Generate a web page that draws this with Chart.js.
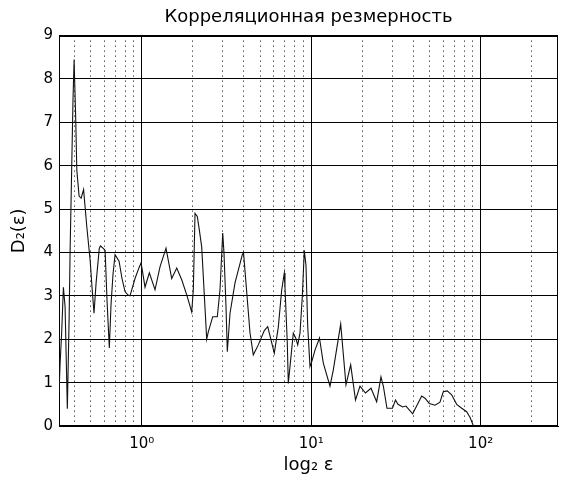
<!DOCTYPE html>
<html>
<head>
<meta charset="utf-8">
<script src="https://cdn.jsdelivr.net/npm/chart.js@4/dist/chart.umd.min.js"></script>
<style>
  html, body { margin: 0; padding: 0; background: #fff; }
</style>
</head>
<body>
<canvas id="myChart" width="562" height="486"></canvas>
<script>
// epsilon values (log-spaced) and the correlation dimension D2
const epsValues = [
  0.325, 0.330, 0.337, 0.345, 0.353, 0.364, 0.373, 0.378, 0.386, 0.393,
  0.399, 0.408, 0.414, 0.427, 0.439, 0.454, 0.474, 0.496, 0.509, 0.523,
  0.538, 0.562, 0.571, 0.591, 0.608, 0.624, 0.644, 0.659, 0.677, 0.696,
  0.735, 0.765, 0.797, 0.830, 0.853, 0.913, 0.964, 0.991, 1.014, 1.046,
  1.109, 1.198, 1.282, 1.391, 1.503, 1.609, 1.722, 1.851, 1.972, 2.016,
  2.063, 2.128, 2.187, 2.259, 2.418, 2.471, 2.624, 2.793, 2.897, 3.006,
  3.059, 3.143, 3.199, 3.319, 3.552, 3.923, 3.987, 4.354, 4.554, 4.874,
  5.288, 5.539, 6.058, 6.397, 6.699, 6.939, 7.005, 7.228, 7.327, 7.497,
  7.842, 8.102, 8.326, 8.589, 8.862, 9.106, 9.318, 9.537, 9.838, 10.11,
  10.53, 11.19, 11.79, 12.91, 13.50, 14.93, 16.04, 17.10, 18.26, 19.41,
  20.91, 22.54, 24.34, 25.81, 26.70, 28.00, 30.18, 31.43, 32.52, 34.66,
  36.25, 39.71, 44.88, 46.94, 49.76, 53.77, 57.54, 60.18, 63.54, 67.44,
  72.19, 77.27, 82.70, 86.49, 90.70
];
const d2Values = [
  0.75, 1.45, 2.15, 3.20, 2.75, 0.40, 2.50, 4.06, 5.90, 7.50,
  8.45, 7.06, 5.90, 5.30, 5.25, 5.45, 4.60, 3.83, 3.20, 2.60,
  3.30, 4.10, 4.15, 4.10, 4.05, 2.90, 1.80, 2.80, 3.50, 3.95,
  3.80, 3.40, 3.10, 3.02, 3.00, 3.40, 3.65, 3.76, 3.53, 3.20,
  3.53, 3.14, 3.67, 4.10, 3.40, 3.64, 3.37, 3.00, 2.63, 3.14,
  4.90, 4.83, 4.52, 4.13, 2.00, 2.17, 2.52, 2.52, 3.14, 4.45,
  3.98, 2.75, 1.71, 2.60, 3.30, 3.95, 4.00, 2.15, 1.64, 1.87,
  2.20, 2.29, 1.68, 2.28, 3.14, 3.53, 3.20, 1.91, 0.98, 1.37,
  2.14, 2.03, 1.87, 2.14, 2.98, 4.05, 3.70, 2.30, 1.37, 1.50,
  1.75, 2.03, 1.45, 0.92, 1.29, 2.35, 0.95, 1.41, 0.60, 0.92,
  0.76, 0.87, 0.56, 1.13, 0.90, 0.41, 0.41, 0.60, 0.50, 0.44,
  0.46, 0.28, 0.69, 0.64, 0.52, 0.48, 0.55, 0.79, 0.81, 0.72,
  0.50, 0.41, 0.33, 0.20, 0.00
];
const majorTicks = [1, 10, 100];
const majorLabels = ['10\u2070', '10\u00b9', '10\u00b2'];
const minorTicks = [0.4, 0.5, 0.6, 0.7, 0.8, 0.9, 2, 3, 4, 5, 6, 7, 8, 9,
  20, 30, 40, 50, 60, 70, 80, 90, 200];
const yTicks = [0, 1, 2, 3, 4, 5, 6, 7, 8, 9];

const xMin = 0.325, xMax = 286;
const FONT = 'DejaVu Sans';

const framePlugin = {
  id: 'frame',
  beforeDatasetsDraw(chart) {
    const a = chart.chartArea;
    const c = chart.ctx;
    c.save();
    c.strokeStyle = '#000';
    c.lineWidth = 1;
    c.strokeRect(Math.round(a.left) + 0.5, Math.round(a.top) + 0.5,
      Math.round(a.right - a.left) - 1, Math.round(a.bottom - a.top) - 1);
    c.restore();
  }
};

const ctx = document.getElementById('myChart');
new Chart(ctx, {
  type: 'line',
  data: {
    datasets: [{
      data: epsValues.map((e, i) => ({ x: e, y: d2Values[i] })),
      borderColor: '#111',
      borderWidth: 1.1,
      pointRadius: 0,
      tension: 0,
      fill: false
    }]
  },
  options: {
    responsive: false,
    animation: false,
    devicePixelRatio: 1,
    layout: { padding: { left: 0, right: 4, top: 0, bottom: 0 } },
    plugins: {
      legend: { display: false },
      tooltip: { enabled: false },
      title: {
        display: true,
        fullSize: false,
        text: 'Корреляционная резмерность',
        color: '#000',
        font: { family: FONT, size: 18, weight: 'normal', lineHeight: 1.2 },
        padding: { top: 7, bottom: 7 }
      }
    },
    scales: {
      x: {
        type: 'logarithmic',
        position: 'bottom',
        bounds: 'data',
        min: xMin,
        max: xMax,
        afterBuildTicks: s => { s.ticks = majorTicks.map(v => ({ value: v })); },
        afterFit: s => { s.height = 60; },
        ticks: {
          autoSkip: false,
          maxRotation: 0,
          color: '#000',
          padding: 9,
          font: { family: FONT, size: 15 },
          callback: v => majorLabels[majorTicks.indexOf(v)] || ''
        },
        grid: { color: '#000', lineWidth: 1, drawTicks: false },
        border: { display: true, color: '#000' },
        title: {
          display: true,
          text: 'log\u2082 \u03b5',
          color: '#000',
          font: { family: FONT, size: 18 },
          padding: { top: 0, bottom: 10 }
        }
      },
      x2: {
        type: 'logarithmic',
        position: 'bottom',
        bounds: 'data',
        min: xMin,
        max: xMax,
        afterBuildTicks: s => { s.ticks = minorTicks.map(v => ({ value: v })); },
        afterFit: s => { s.height = 0; },
        ticks: { display: false },
        grid: { color: '#000', lineWidth: 1, drawTicks: false },
        border: { display: false, dash: [1, 4] }
      },
      y: {
        type: 'linear',
        min: 0,
        max: 9,
        afterBuildTicks: s => { s.ticks = yTicks.map(v => ({ value: v })); },
        afterFit: s => { s.width = 59; },
        ticks: {
          color: '#000',
          padding: 6,
          font: { family: FONT, size: 15 }
        },
        grid: { color: '#000', lineWidth: 1, drawTicks: false },
        border: { display: true, color: '#000' },
        title: {
          display: true,
          text: 'D\u2082(\u03b5)',
          color: '#000',
          font: { family: FONT, size: 18 },
          padding: { top: 9, bottom: 0 }
        }
      }
    }
  },
  plugins: [framePlugin]
});
</script>
</body>
</html>
